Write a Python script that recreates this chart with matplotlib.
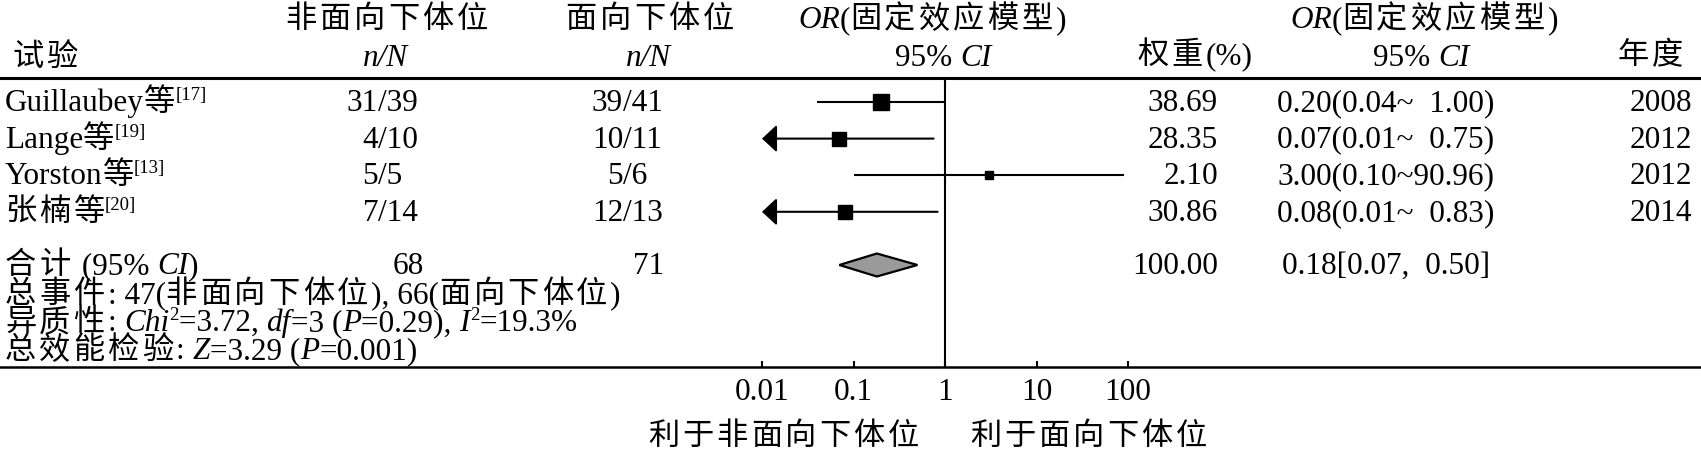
import math
import matplotlib
matplotlib.use('Agg')
import matplotlib.pyplot as plt
from matplotlib.patches import Polygon
from matplotlib.ticker import NullLocator

# study data
studies = ['Guillaubey', 'Lange', 'Yorston', '张楠']
refs = ['17', '19', '13', '20']
ev_ctrl = [31, 4, 5, 7]          # 非面向下体位 n
n_ctrl = [39, 10, 5, 14]         # 非面向下体位 N
ev_trt = [39, 10, 5, 12]         # 面向下体位 n
n_trt = [41, 11, 6, 13]          # 面向下体位 N
weights = [38.69, 28.35, 2.10, 30.86]
or_est = [0.20, 0.07, 3.00, 0.08]
or_lo = [0.04, 0.01, 0.10, 0.01]
or_hi = [1.00, 0.75, 90.96, 0.83]
years = [2008, 2012, 2012, 2014]

# pooled result
tot_ctrl = 68
tot_trt = 71
tot_weight = 100.00
pool_est, pool_lo, pool_hi = 0.18, 0.07, 0.50
events_ctrl, events_trt = 47, 66
chi2, df, p_het, i2 = 3.72, 3, 0.29, 19.3
z_val, p_z = 3.29, 0.001

ticks = [0.01, 0.1, 1, 10, 100]
tick_labels = ['0.01', '0.1', '1', '10', '100']

FAM = ['Liberation Serif', 'Noto Sans CJK SC']
FS = 22.5
TRACK = 3.0   # extra spacing after each CJK glyph, px

W, H = 1701, 450
fig = plt.figure(figsize=(W / 100, H / 100), dpi=100)

# pixel geometry of the forest panel
y_top, y_bot = 78, 367
x_one, decade = 945, 91.5
row_y = [102 + 36.6 * i for i in range(len(studies))]
pool_y = 265

ax = fig.add_axes([0, (H - y_bot) / H, 1, (y_bot - y_top) / H])
ax.set_xscale('log')
ax.set_xlim(10 ** (-x_one / decade), 10 ** ((W - x_one) / decade))
ax.set_ylim(y_bot, y_top)
ax.patch.set_alpha(0)
for s in ['left', 'right']:
    ax.spines[s].set_visible(False)
ax.spines['top'].set_linewidth(2.2)
ax.spines['bottom'].set_linewidth(1.8)
ax.set_yticks([])
ax.set_xticks(ticks)
ax.set_xticklabels([])
ax.xaxis.set_minor_locator(NullLocator())
ax.tick_params(axis='x', direction='in', length=4, width=1.5)
ax.axvline(1, color='black', lw=1.5)

for i in range(len(studies)):
    y = row_y[i]
    lo = or_lo[i]
    if lo <= 0.01:
        ax.annotate('', xy=(0.01, y), xytext=(or_hi[i], y),
                    arrowprops=dict(arrowstyle='-|>,head_length=0.45,head_width=0.42',
                                    color='black', lw=1.5, shrinkA=0, shrinkB=0,
                                    mutation_scale=20))
    else:
        ax.plot([lo, or_hi[i]], [y, y], color='black', lw=1.5, solid_capstyle='butt')
    side = (8 + 0.22 * weights[i]) * 0.72
    ax.plot(or_est[i], y, marker='s', ms=side, color='black', mec='black')

diamond = Polygon([(pool_lo, pool_y), (pool_est, pool_y - 11.5),
                   (pool_hi, pool_y), (pool_est, pool_y + 11.5)],
                  closed=True, facecolor='#9a9a9a', edgecolor='black', lw=1.6, zorder=3)
ax.add_patch(diamond)

# overlay for all text, in pixel coordinates
tx = fig.add_axes([0, 0, 1, 1])
tx.set_xlim(0, W)
tx.set_ylim(H, 0)
tx.axis('off')

renderer = fig.canvas.get_renderer()


def width_of(s, size, style):
    t = tx.text(0, 0, s + '|', fontsize=size, fontstyle=style, family=FAM)
    w1 = t.get_window_extent(renderer).width
    t.set_text('|')
    w2 = t.get_window_extent(renderer).width
    t.remove()
    return w1 - w2


def is_cjk(c):
    return '\u4e00' <= c <= '\u9fff'


def rich(x, y, parts, ha='left'):
    # parts: (text, flag) with flag '' normal, 'i' italic, 's' superscript
    specs = []
    for s, f in parts:
        size = FS * 0.6 if f == 's' else FS
        style = 'italic' if f == 'i' else 'normal'
        dy = -11 if f == 's' else 0
        if f == 's' and specs and is_cjk(specs[-1][0][-1]):
            last = specs[-1]
            specs[-1] = last[:4] + (last[4] - TRACK,)
        # split so CJK glyphs get some letter spacing like the original
        runs, cur = [], ''
        for c in s:
            if is_cjk(c):
                if cur:
                    runs.append((cur, 0))
                    cur = ''
                runs.append((c, TRACK))
            else:
                cur += c
        if cur:
            runs.append((cur, 0))
        for r, gap in runs:
            specs.append((r, size, style, dy, width_of(r, size, style) + gap))
    total = sum(sp[4] for sp in specs)
    if ha == 'center':
        x = x - total / 2
    elif ha == 'right':
        x = x - total
    for s, size, style, dy, w in specs:
        tx.text(x, y + dy, s, fontsize=size, fontstyle=style, family=FAM,
                va='baseline', ha='left')
        x += w


# header
b1, b2 = 28, 66
rich(388, b1, [('非面向下体位', '')], 'center')
rich(651, b1, [('面向下体位', '')], 'center')
rich(932, b1, [('OR', 'i'), ('(固定效应模型)', '')], 'center')
rich(1424, b1, [('OR', 'i'), ('(固定效应模型)', '')], 'center')
rich(12, b2, [('试验', '')])
rich(385, b2, [('n/N', 'i')], 'center')
rich(648, b2, [('n/N', 'i')], 'center')
rich(943, b2, [('95% ', ''), ('CI', 'i')], 'center')
rich(1195, b2 - 2, [('权重(%)', '')], 'center')
rich(1421, b2, [('95% ', ''), ('CI', 'i')], 'center')
rich(1686, b2 - 2, [('年度', '')], 'right')

# study rows
for i in range(len(studies)):
    b = row_y[i] + 9
    rich(5, b, [(studies[i], ''), ('等', ''), ('[' + refs[i] + ']', 's')])
    rich(378, b, [(str(ev_ctrl[i]), '')], 'right')
    rich(378, b, [('/' + str(n_ctrl[i]), '')])
    rich(623, b, [(str(ev_trt[i]), '')], 'right')
    rich(623, b, [('/' + str(n_trt[i]), '')])
    rich(1218, b, [('%.2f' % weights[i], '')], 'right')
    hi_s = '%.2f' % or_hi[i]
    if len(hi_s) < 5:
        hi_s = '  ' + hi_s
    rich(1277, b, [('%.2f(%.2f~%s)' % (or_est[i], or_lo[i], hi_s), '')])
    rich(1692, b, [(str(years[i]), '')], 'right')

# pooled row
b = pool_y + 9
rich(5, b, [('合计 (95% ', ''), ('CI', 'i'), (')', '')])
rich(424, b, [(str(tot_ctrl), '')], 'right')
rich(664, b, [(str(tot_trt), '')], 'right')
rich(1218, b, [('%.2f' % tot_weight, '')], 'right')
rich(1282, b, [('%.2f[%.2f,  %.2f]' % (pool_est, pool_lo, pool_hi), '')])

# footer statistics
rich(5, 303, [('总事件: %d(非面向下体位), %d(面向下体位)' % (events_ctrl, events_trt), '')])
rich(5, 331, [('异质性: ', ''), ('Chi', 'i'), ('2', 's'), ('=%.2f, ' % chi2, ''),
              ('df', 'i'), ('=%d (' % df, ''), ('P', 'i'), ('=%.2f), ' % p_het, ''),
              ('I', 'i'), ('2', 's'), ('=%.1f%%' % i2, '')])
rich(5, 359, [('总效能检验: ', ''), ('Z', 'i'), ('=%.2f (' % z_val, ''),
              ('P', 'i'), ('=%.3f)' % p_z, '')])

# tick labels on the log scale
for t, lab in zip(ticks, tick_labels):
    xp = x_one + decade * math.log10(t)
    rich(xp, 400, [(lab, '')], 'center')

rich(785, 445, [('利于非面向下体位', '')], 'center')
rich(1090, 445, [('利于面向下体位', '')], 'center')

fig.savefig('out.png', dpi=100)
